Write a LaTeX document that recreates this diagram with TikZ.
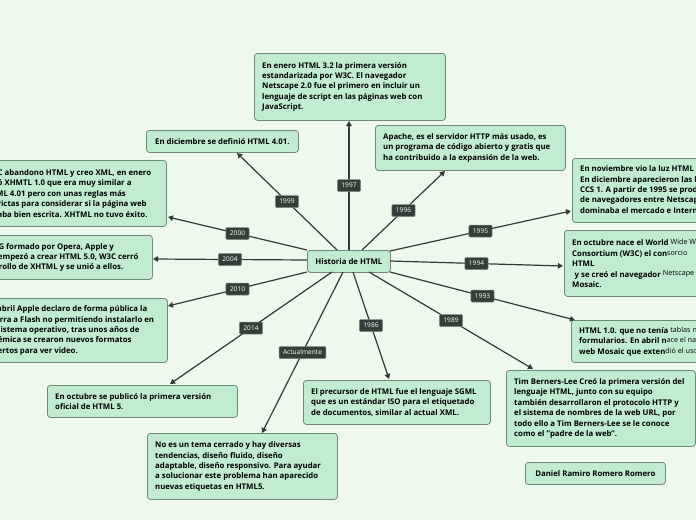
\documentclass[tikz,border=0pt]{standalone}
\usepackage{fontspec}
\setmainfont{Open Sans}
\usetikzlibrary{arrows.meta}
\definecolor{bgcol}{RGB}{239,248,237}
\definecolor{boxfill}{RGB}{193,236,207}
\definecolor{boxline}{RGB}{110,138,118}
\definecolor{labfill}{RGB}{52,62,56}
\definecolor{labline}{RGB}{125,140,130}
\definecolor{conncol}{RGB}{50,58,53}
\newcommand\altseg[1]{\raisebox{1.2pt}{\mdseries\fontsize{7.2}{8}\selectfont #1}}
\newcommand\mkbox[6]{%
  \node[boxshape, minimum width=#4pt, minimum height=#5pt] (#1) at (#2,#3) {};
  \node[boxtext] (#1t) at ([xshift=8pt]#1.west) {#6};}
\begin{document}
\begin{tikzpicture}[x=1pt,y=-1pt,
  boxshape/.style={draw=boxline, fill=boxfill, rounded corners=3pt, line width=0.8pt,
    anchor=north west, inner sep=0pt},
  boxtext/.style={anchor=west, align=left, inner sep=0pt,
    font=\bfseries\fontsize{7.8}{10.4}\selectfont, text=black},
  onebox/.style={boxshape, align=center, font=\bfseries\fontsize{7.8}{10.4}\selectfont, text=black},
  yr/.style={fill=labfill, draw=labline, line width=0.5pt, text=white, rounded corners=1pt,
    font=\fontsize{6.6}{7}\selectfont, inner xsep=4pt, inner ysep=0pt, minimum height=12pt},
  conn/.style={draw=conncol, line width=1.2pt, -{Triangle[length=5pt,width=5.5pt]}},
]
\useasboundingbox (0,0) rectangle (696,520);
\clip (0,0) rectangle (696,520);
\fill[bgcol] (0,0) rectangle (696,520);

% center
\node[onebox, minimum width=83pt, minimum height=22pt] (c) at (307,250) {Historia de HTML};

% boxes
\mkbox{b1997}{254}{53}{191}{67}
 {En enero HTML 3.2 la primera versión\\estandarizada por W3C. El navegador\\Netscape 2.0 fue el primero en incluir un\\lenguaje de script en las páginas web con\\JavaScript.}
\node[onebox, minimum width=152pt, minimum height=22pt] (b1999) at (146,130) {En diciembre se definió HTML 4.01.};
\mkbox{b1996}{375}{125}{190}{45}
 {Apache, es el servidor HTTP más usado, es\\un programa de código abierto y gratis que\\ha contribuido a la expansión de la web.}
\mkbox{b2000}{-22.5}{160}{188.5}{66}
 {W3C abandono HTML y creo XML, en enero\\creó XHMTL 1.0 que era muy similar a\\HTML 4.01 pero con unas reglas más\\estrictas para considerar si la página web\\estaba bien escrita. XHTML no tuvo éxito.}
\mkbox{b1995}{572}{158}{191}{64}
 {En noviembre vio la luz HTML 2.0.\\En diciembre aparecieron las hojas de estilo\\CCS 1. A partir de 1995 se produjo la guerra\\de navegadores entre Netscape, que\\dominaba el mercado e Internet Explorer.}
\mkbox{b2004}{-40}{235}{192}{44}
 {WHATWG formado por Opera, Apple y\\Mozilla empezó a crear HTML 5.0, W3C cerró\\el desarrollo de XHTML y se unió a ellos.}
\mkbox{b1994}{564}{230}{191}{66}
 {En octubre nace el World \altseg{Wide Web}\\Consortium (W3C) el con\altseg{sorcio}\\HTML\\\hspace*{2.5pt}y se creó el navegador \altseg{Netscape}\\Mosaic.}
\mkbox{b2010}{-22.5}{298}{189.5}{64}
 {En abril Apple declaro de forma pública la\\guerra a Flash no permitiendo instalarlo en\\su sistema operativo, tras unos años de\\polémica se crearon nuevos formatos\\abiertos para ver video.}
\mkbox{b1993}{571}{320}{191}{42}
 {HTML 1.0. que no tenía \altseg{tablas ni}\\formularios. En abril n\altseg{ace el navegador}\\web Mosaic que exten\altseg{dió el uso de la web}}
\mkbox{b1989}{506}{370}{189}{76}
 {Tim Berners-Lee Creó la primera versión del\\lenguaje HTML, junto con su equipo\\también desarrollaron el protocolo HTTP y\\el sistema de nombres de la web URL, por\\todo ello a Tim Berners-Lee se le conoce\\como el "padre de la web".}
\node[onebox, minimum width=140pt, minimum height=22pt] (author) at (525,462) {Daniel Ramiro Romero Romero};
\mkbox{b1986}{303}{380}{187}{44}
 {El precursor de HTML fue el lenguaje SGML\\que es un estándar ISO para el etiquetado\\de documentos, similar al actual XML.}
\mkbox{b2014}{47}{385}{190}{32}
 {En octubre se publicó la primera versión\\oficial de HTML 5.}
\mkbox{bact}{147}{433}{190}{66}
 {No es un tema cerrado y hay diversas\\tendencias, diseño fluido, diseño\\adaptable, diseño responsivo. Para ayudar\\a solucionar este problema han aparecido\\nuevas etiquetas en HTML5.}

% connector end points
\coordinate (s97) at (349,250); \coordinate (t97) at (349,121);
\coordinate (s99) at (337,250); \coordinate (t99) at (237,153);
\coordinate (s96) at (362,250); \coordinate (t96) at (445,171);
\coordinate (s00) at (307,250); \coordinate (t00) at (168,217);
\coordinate (s95) at (390,251); \coordinate (t95) at (571,211);
\coordinate (s04) at (307,260); \coordinate (t04) at (153,259);
\coordinate (s94) at (390,261); \coordinate (t94) at (563,266);
\coordinate (s10) at (307,272); \coordinate (t10) at (168,306);
\coordinate (s93) at (390,272); \coordinate (t93) at (575,320);
\coordinate (s14) at (332,272); \coordinate (t14) at (170,384);
\coordinate (sac) at (343,272); \coordinate (tac) at (262,433);
\coordinate (s86) at (353,272); \coordinate (t86) at (389,379);
\coordinate (s89) at (369,272); \coordinate (t89) at (533,369);

\draw[conn] (s97) -- node[yr]{1997} (t97);
\draw[conn] (s99) -- node[yr]{1999} (t99);
\draw[conn] (s96) -- node[yr]{1996} (t96);
\draw[conn] (s00) -- node[yr]{2000} (t00);
\draw[conn] (s95) -- node[yr]{1995} (t95);
\draw[conn] (s04) -- node[yr]{2004} (t04);
\draw[conn] (s94) -- node[yr]{1994} (t94);
\draw[conn] (s10) -- node[yr]{2010} (t10);
\draw[conn] (s93) -- node[yr]{1993} (t93);
\draw[conn] (s14) -- node[yr]{2014} (t14);
\draw[conn] (sac) -- node[yr]{Actualmente} (tac);
\draw[conn] (s86) -- node[yr]{1986} (t86);
\draw[conn] (s89) -- node[yr]{1989} (t89);
\end{tikzpicture}
\end{document}
